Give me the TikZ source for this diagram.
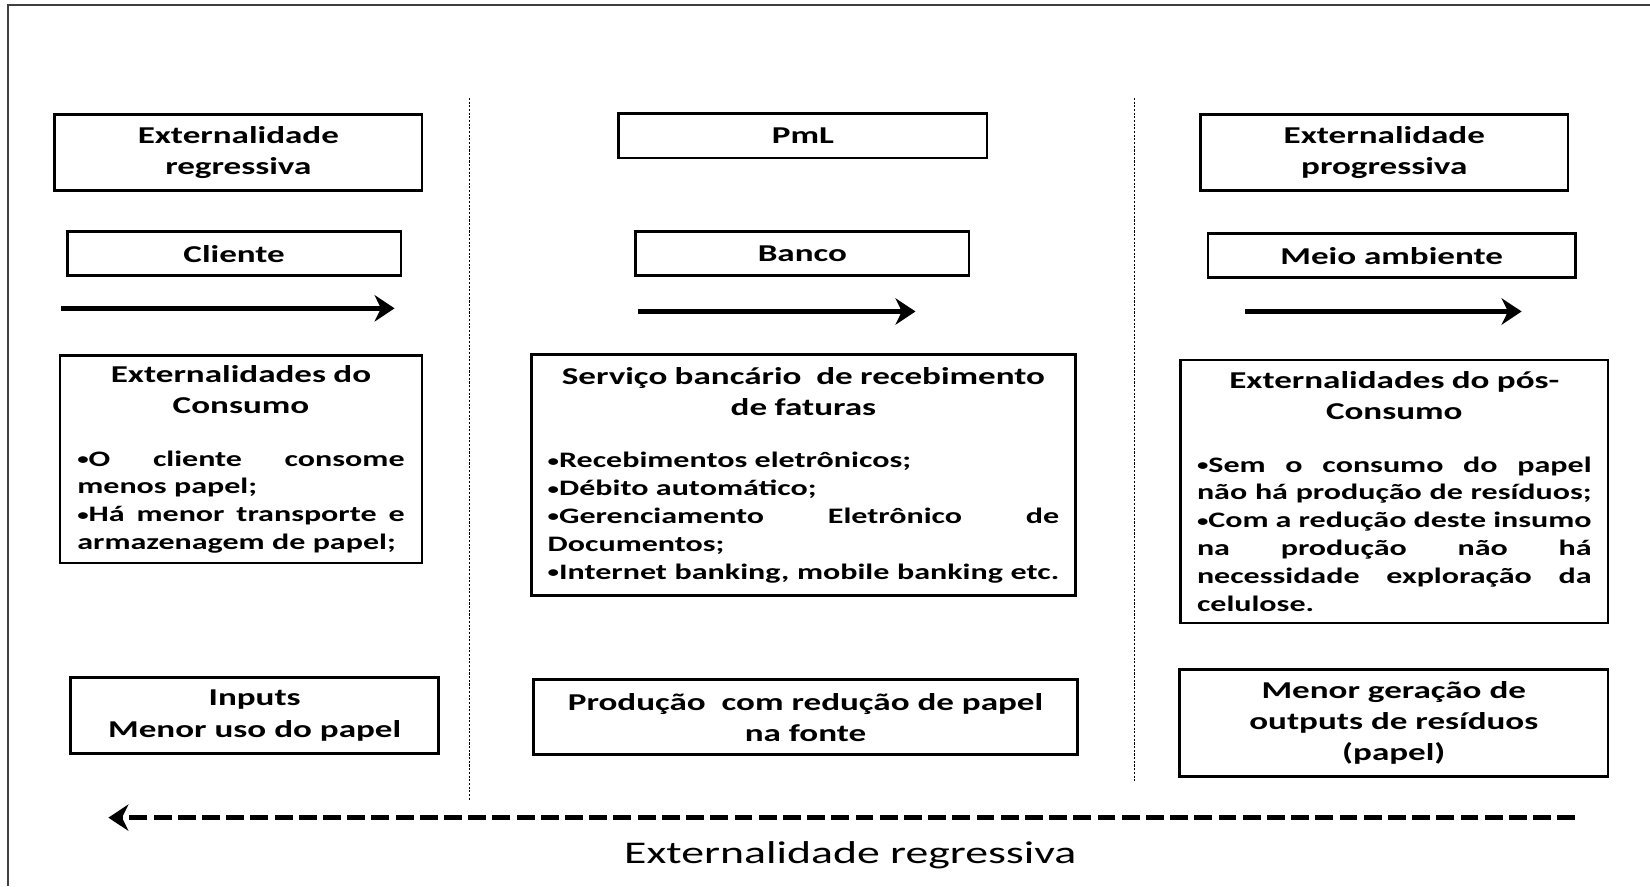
\documentclass[tikz,border=0pt]{standalone}
\usepackage{fontspec}
\setmainfont{Carlito}[FakeStretch=1.45]
\usetikzlibrary{arrows.meta}

\newcommand{\headfont}{\bfseries\fontsize{23}{29.5}\selectfont}
\newcommand{\bodyfont}{\bfseries\fontsize{21}{26.4}\selectfont}
\newcommand{\jln}[1]{\leavevmode\hbox to \hsize{#1}}
\newcommand{\bul}{\raisebox{1.5pt}{\fontsize{15}{15}\selectfont\textbullet}}

\tikzset{
  tag/.style={draw, line width=2.5pt, font=\headfont, align=center, inner sep=0pt},
  note/.style={draw, line width=2.5pt, font=\bodyfont, align=left, inner sep=0pt},
  flow/.style={line width=4.5pt, -{Stealth[length=19pt,width=25pt,inset=6pt]}},
  split/.style={line width=1pt, dash pattern=on 2pt off 1.5pt},
}

\begin{document}
\begin{tikzpicture}[x=1pt, y=-1pt]
  \useasboundingbox (0,0) rectangle (1568,842);

  % Frame
  \draw[line width=2pt, black!75] (8,842) -- (8,5) -- (1568,5);

  % Separators
  \draw[split] (446,93) -- (446,760);
  \draw[split] (1078,93) -- (1078,742);

  % Client side
  \node[tag, minimum width=349pt, minimum height=72pt] (regr) at (226.5,145)
    {Externalidade\\regressiva};
  \node[tag, minimum width=317pt, minimum height=42pt] (cliente) at (222.5,241)
    {Cliente};
  \coordinate (c1a) at (58,293);
  \coordinate (c1b) at (375,293);
  \draw[flow] (c1a) -- (c1b);
  \node[note, minimum width=344pt, minimum height=197pt, text width=311pt]
    (consumo) at (229,436.5)
    {{\centering\headfont Externalidades do\\Consumo\par}\vspace{23.6pt}
     \jln{\bul O\hfill cliente\hfill consome}\\
     menos papel;\\
     \jln{\bul Há\hfill menor\hfill transporte\hfill e}\\
     armazenagem de papel;};
  \node[tag, minimum width=350pt, minimum height=72pt] (inputs) at (242,680)
    {Inputs\\Menor uso do papel};

  % Bank
  \node[tag, minimum width=350pt, minimum height=42pt] (pml) at (763,129)
    {PmL};
  \node[tag, minimum width=317pt, minimum height=42pt] (banco) at (762.5,241)
    {Banco};
  \coordinate (c2a) at (606,296);
  \coordinate (c2b) at (870,296);
  \draw[flow] (c2a) -- (c2b);
  \node[note, minimum width=517pt, minimum height=229pt, text width=486pt]
    (servico) at (763.5,451.5)
    {{\centering\headfont Serviço bancário \ de recebimento\\de faturas\par}\vspace{23.6pt}
     \bul Recebimentos eletrônicos;\\
     \bul Débito automático;\\
     \jln{\bul Gerenciamento\hfill Eletrônico\hfill de}\\
     Documentos;\\
     \jln{\bul Internet\hfill banking,\hfill mobile\hfill banking\hfill etc.}};
  \node[tag, minimum width=517pt, minimum height=71pt] (producao) at (765.5,681.5)
    {Produção \ com redução de papel\\na fonte};

  % Environment
  \node[tag, minimum width=349pt, minimum height=72pt] (progr) at (1315.5,145)
    {Externalidade\\progressiva};
  \node[tag, minimum width=349pt, minimum height=42pt] (meio) at (1322.5,243)
    {Meio ambiente};
  \coordinate (c3a) at (1183,296);
  \coordinate (c3b) at (1446,296);
  \draw[flow] (c3a) -- (c3b);
  \node[note, minimum width=406pt, minimum height=250pt, text width=375pt]
    (posconsumo) at (1325,467)
    {{\centering\headfont Externalidades do pós-\\Consumo\par}\vspace{23.6pt}
     \jln{\bul Sem\hfill o\hfill consumo\hfill do\hfill papel}\\
     \jln{não\hfill há\hfill produção\hfill de\hfill resíduos;}\\
     \jln{\bul Com\hfill a\hfill redução\hfill deste\hfill insumo}\\
     \jln{na\hfill produção\hfill não\hfill há}\\
     \jln{necessidade\hfill exploração\hfill da}\\
     celulose.};
  \node[tag, minimum width=407pt, minimum height=102pt] (residuos) at (1324.5,687)
    {Menor geração de\\outputs de resíduos\\(papel)};

  % Backward flow
  \coordinate (bk1) at (1497,777);
  \coordinate (bk2) at (103,777);
  \draw[flow, dash pattern=on 17pt off 6pt] (bk1) -- (bk2);
  \node[font=\fontsize{30}{36}\selectfont] (regrlabel) at (808,813)
    {Externalidade regressiva};
\end{tikzpicture}
\end{document}
